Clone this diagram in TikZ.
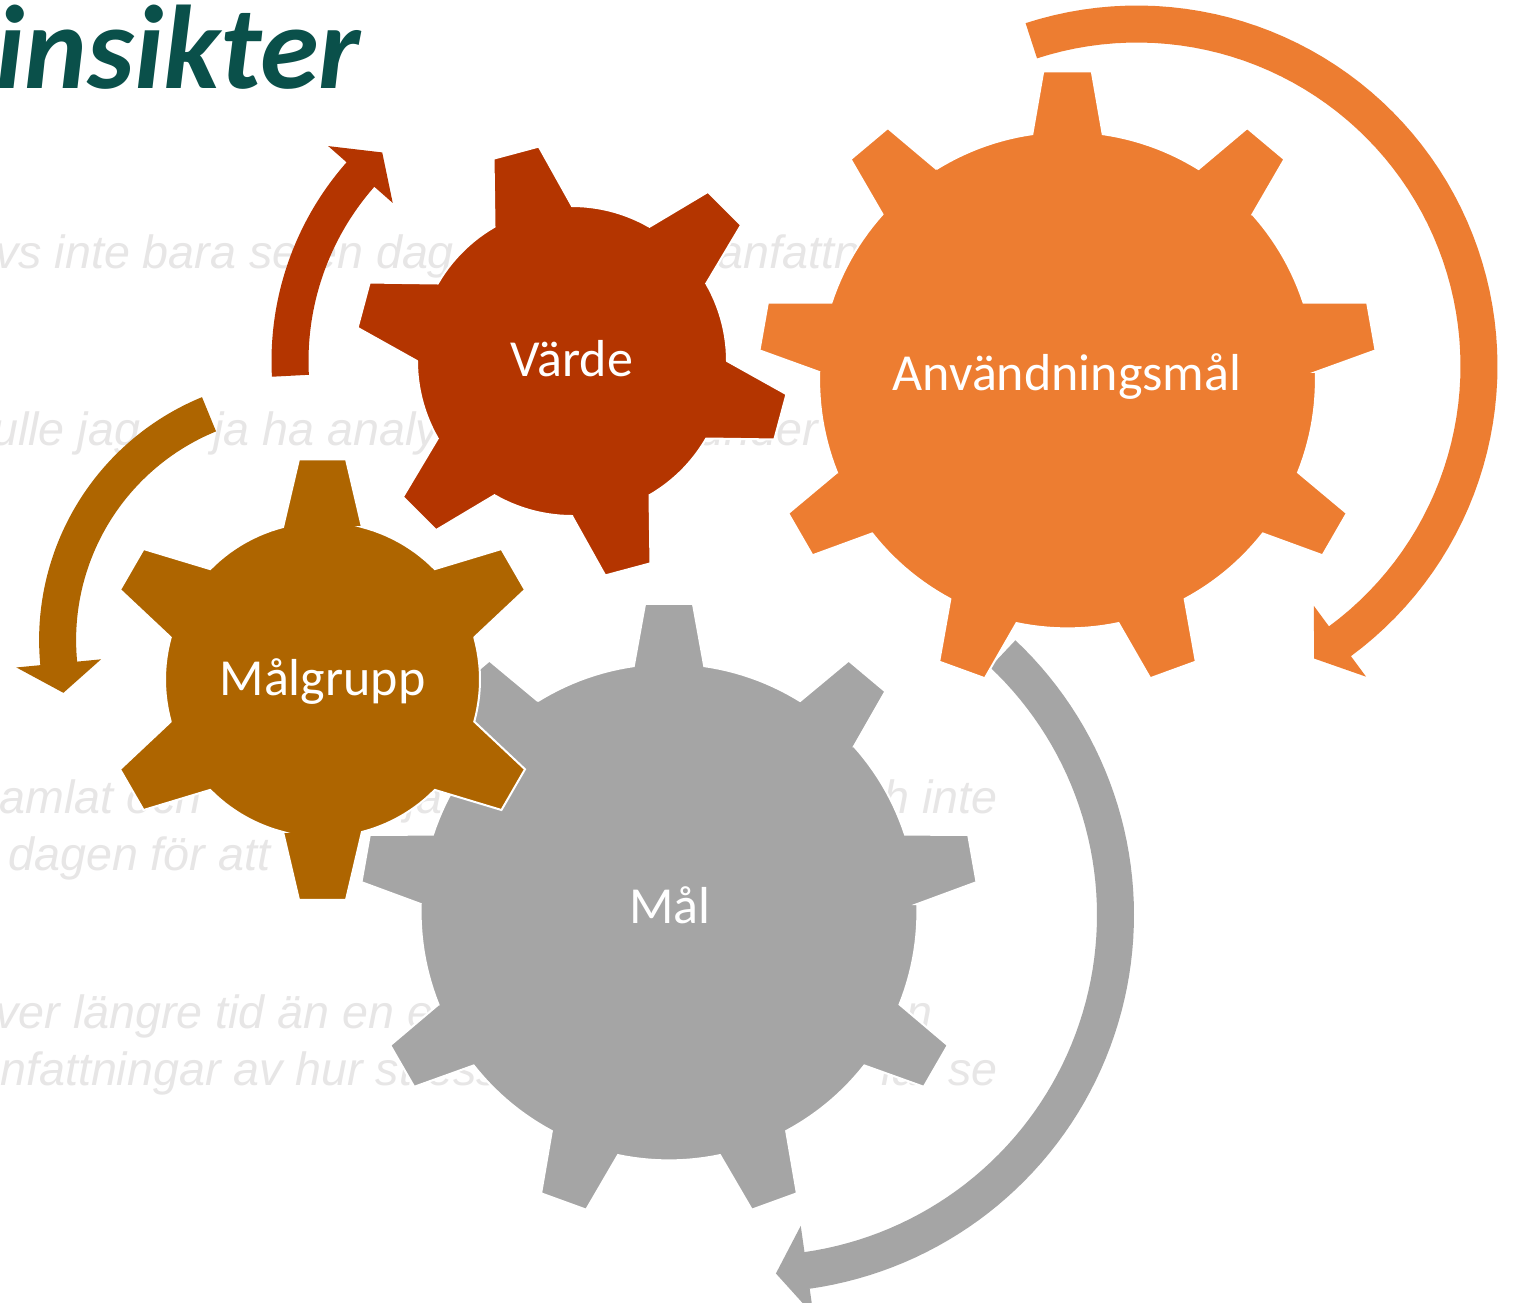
\documentclass[tikz,border=0pt]{standalone}
\usepackage{fontspec}
\setmainfont{Carlito}
\newfontfamily\bgfont{Liberation Sans}
\definecolor{vardec}{RGB}{180,53,0}
\definecolor{malgc}{RGB}{174,101,0}
\definecolor{anvc}{RGB}{237,125,49}
\definecolor{malc}{RGB}{165,165,165}
\definecolor{bgtxt}{RGB}{231,230,230}
\definecolor{titlec}{RGB}{10,80,74}
\tikzset{
  gearfill/.style={fill=#1, draw=white, line width=1pt, line join=miter},
  arrowfill/.style={fill=#1},
  bgtext/.style={text=bgtxt, font=\bgfont\itshape\fontsize{23.3}{28}\selectfont, inner sep=0pt},
  gearlabel/.style={text=white, font=\fontsize{26}{31}\selectfont, inner sep=0pt, anchor=base},
}
% #1 cx, #2 cy, #3 body r, #4 tip r, #5 teeth, #6 first tooth angle, #7 base half angle, #8 tip half angle, #9 style
\newcommand{\mygear}[9]{%
  \pgfmathsetmacro{\gstep}{360/#5}%
  \pgfmathtruncatemacro{\glast}{#5-1}%
  \path[#9] ({#1+#3*cos(#6-#7)},{#2-#3*sin(#6-#7)})
    \foreach \k [evaluate=\k as \ga using #6+\k*\gstep,
                 evaluate=\k as \gb using #6+\k*\gstep+#7,
                 evaluate=\k as \gc using #6+(\k+1)*\gstep-#7] in {0,...,\glast}{
      -- ({#1+#3*cos(\ga-#7)},{#2-#3*sin(\ga-#7)})
      -- ({#1+#4*cos(\ga-#8)},{#2-#4*sin(\ga-#8)})
      -- ({#1+#4*cos(\ga+#8)},{#2-#4*sin(\ga+#8)})
      -- ({#1+#3*cos(\gb)},{#2-#3*sin(\gb)})
      -- plot[domain=\gb:\gc, samples=14] ({#1+#3*cos(\x)},{#2-#3*sin(\x)})
    } -- cycle;
}
% #1 cx, #2 cy, #3 r, #4 start angle, #5 end angle, #6 tip angle, #7 barb offset, #8 colour
\newcommand{\myarrow}[8]{%
  \fill[arrowfill=#8] plot[domain=#4:#5, samples=70] ({#1+(#3+18.5)*cos(\x)},{#2-(#3+18.5)*sin(\x)})
    -- ({#1+(#3+#7)*cos(#5)},{#2-(#3+#7)*sin(#5)})
    -- ({#1+#3*cos(#6)},{#2-#3*sin(#6)})
    -- ({#1+(#3-#7)*cos(#5)},{#2-(#3-#7)*sin(#5)})
    -- plot[domain=#5:#4, samples=70] ({#1+(#3-18.5)*cos(\x)},{#2-(#3-18.5)*sin(\x)})
    -- cycle;
}
\begin{document}
\begin{tikzpicture}[x=0.5pt,y=-0.5pt]
\useasboundingbox (0,0) rectangle (1516,1302);
\clip (0,0) rectangle (1516,1302);
\fill[white] (0,0) rectangle (1516,1302);
% background text
\node[bgtext, anchor=base west] (t1a) at (-5,268) {vs inte bara se en dag};
\node[bgtext, anchor=base west] (t1b) at (717,268) {anfattningar};
\node[bgtext, anchor=base west] (t2a) at (-8,445) {ulle jag};
\node[bgtext, anchor=base west] (t2b) at (213,445) {ja ha analyserat};
\node[bgtext, anchor=base east] (t2c) at (818,445) {under};
\node[bgtext, anchor=base west] (t3a) at (-1,813) {amlat och};
\node[bgtext, anchor=base west] (t3b) at (406,813) {ja};
\node[bgtext, anchor=base east] (t3c) at (998,813) {och inte};
\node[bgtext, anchor=base west] (t4a) at (8,870) {dagen för att};
\node[bgtext, anchor=base west] (t5a) at (-5,1028) {ver längre tid än en enda};
\node[bgtext, anchor=base east] (t5b) at (933,1028) {n};
\node[bgtext, anchor=base west] (t6a) at (0,1085) {nfattningar av hur stressen};
\node[bgtext, anchor=base east] (t6b) at (998,1085) {la. se};
% title
\node[anchor=base west, inner sep=0pt, text=titlec, font=\bfseries\itshape\fontsize{59.5}{62}\selectfont] (title) at (-5,88) {insikter};
% gears and arrows
\mygear{669}{912}{248.4}{309}{9}{90}{8.15}{4.45}{gearfill=malc}
\myarrow{756.5}{915}{359}{46.7}{-81.9}{-86.9}{45}{malc}
\mygear{322.5}{679.5}{157.5}{221.5}{6}{90}{14.5}{6.1}{gearfill=malgc}
\myarrow{301.6}{640}{244}{112.3}{185.5}{192.5}{42.5}{malgc}
\mygear{572}{361}{155}{217}{6}{165}{15}{6.2}{gearfill=vardec}
\myarrow{572}{361}{282}{183}{138.6}{132.3}{43}{vardec}
\mygear{1067.5}{380}{248.4}{309.5}{9}{90}{8.15}{4.5}{gearfill=anvc}
\myarrow{1137}{366}{342}{108}{-53.6}{-58.8}{44}{anvc}
% labels
\node[gearlabel] (lvarde) at (572,376) {Värde};
\node[gearlabel] (lmalgrupp) at (322.5,695) {Målgrupp};
\node[gearlabel] (lanv) at (1067,390) {Användningsmål};
\node[gearlabel] (lmal) at (670,923) {Mål};
\end{tikzpicture}
\end{document}
